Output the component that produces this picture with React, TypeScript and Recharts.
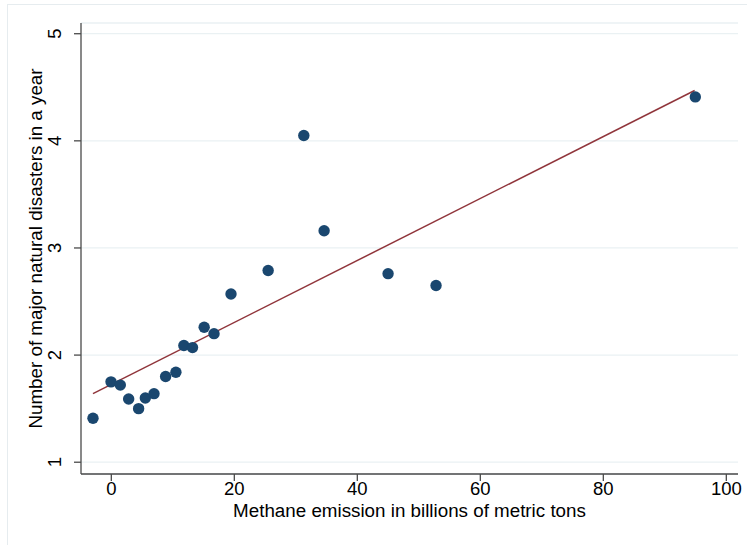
import { ScatterChart, Scatter, XAxis, YAxis, CartesianGrid } from 'recharts';

// methane emission (billions of metric tons) vs. disasters per year
const methane = [-2.98, -0.05, 1.46, 2.82, 4.44, 5.53, 6.94, 8.83, 10.5, 11.8, 13.2, 15.1, 16.7, 19.46, 25.5, 31.3, 34.6, 45.0, 52.8, 94.96];
const disasters = [1.41, 1.75, 1.72, 1.59, 1.5, 1.6, 1.64, 1.8, 1.84, 2.09, 2.07, 2.26, 2.2, 2.57, 2.79, 4.05, 3.16, 2.76, 2.65, 4.41];

// fitted line endpoints
const fitX = [-2.98, 94.85];
const fitY = [1.64, 4.47];

const xTicks = [0, 20, 40, 60, 80, 100];
const yTicks = [1, 2, 3, 4, 5];

const points = methane.map((x, i) => ({ x, y: disasters[i] }));
const fitLine = fitX.map((x, i) => ({ x, y: fitY[i] }));

const FONT = '"Liberation Sans", Arial, sans-serif';
const AXIS = '#4a4a4a';

function YTick(props: any) {
  const { x, y, payload } = props;
  const cx = x - 17;
  return (
    <text
      x={cx}
      y={y}
      transform={`rotate(-90, ${cx}, ${y})`}
      textAnchor="middle"
      dominantBaseline="central"
      fontSize={18.5}
      fontFamily={FONT}
      fill="#000"
    >
      {payload.value}
    </text>
  );
}

function Dot(props: any) {
  const { cx, cy } = props;
  return <circle cx={cx} cy={cy} r={5.7} fill="#1a476f" />;
}

export default function App(): React.ReactElement {
  return (
    <div style={{ position: 'absolute', left: 0, top: 0, width: 747, height: 545, background: '#fff' }}>
      {/* thin frame round the graph region, as in the Stata export */}
      <div
        style={{
          position: 'absolute',
          left: 7,
          top: 4,
          width: 760,
          height: 560,
          border: '1px solid #e6ecef',
          boxSizing: 'border-box',
        }}
      />
      <ScatterChart
        width={747}
        height={545}
        margin={{ top: 23, right: 9, bottom: 43, left: 0 }}
        style={{ position: 'absolute', left: 0, top: 0 }}
      >
        <CartesianGrid horizontal vertical={false} stroke="#eaf1f3" strokeWidth={1.3} />
        <XAxis
          type="number"
          dataKey="x"
          domain={[-4.93, 101.9]}
          ticks={xTicks}
          allowDataOverflow
          tickSize={7}
          height={28}
          stroke={AXIS}
          strokeWidth={1.3}
          tick={{ fill: '#000', fontSize: 18.5, fontFamily: FONT }}
          tickMargin={1}
          label={{
            value: 'Methane emission in billions of metric tons',
            position: 'bottom',
            offset: 2,
            fill: '#000',
            fontSize: 18.8,
            fontFamily: FONT,
          }}
        />
        <YAxis
          type="number"
          dataKey="y"
          domain={[0.89, 5.1]}
          ticks={yTicks}
          allowDataOverflow
          width={81}
          tickSize={7}
          stroke={AXIS}
          strokeWidth={1.3}
          tick={<YTick />}
          label={{
            value: 'Number of major natural disasters in a year',
            angle: -90,
            position: 'center',
            dx: -5,
            fill: '#000',
            fontSize: 18.8,
            fontFamily: FONT,
          }}
        />
        <Scatter
          data={fitLine}
          line={{ stroke: '#90353b', strokeWidth: 1.5 }}
          shape={() => <g />}
          isAnimationActive={false}
        />
        <Scatter data={points} shape={<Dot />} isAnimationActive={false} />
      </ScatterChart>
    </div>
  );
}
